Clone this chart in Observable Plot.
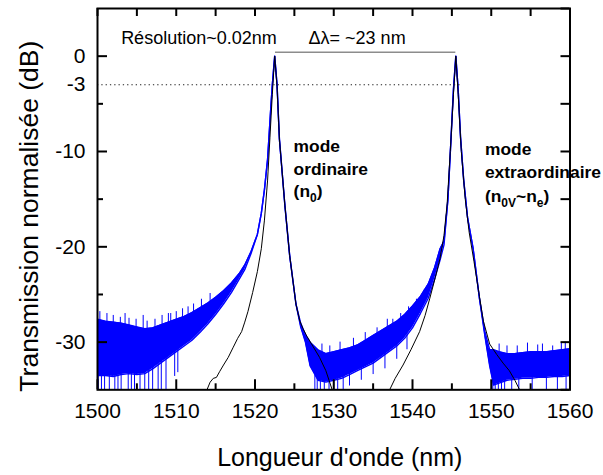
<!DOCTYPE html>
<html>
<head>
<meta charset="utf-8">
<script src="https://cdn.jsdelivr.net/npm/d3@7"></script>
<script src="https://cdn.jsdelivr.net/npm/@observablehq/plot@0.6"></script>
<style>
  html, body { margin: 0; padding: 0; background: #ffffff; }
</style>
</head>
<body>
<div id="chart"></div>
<script>
// ---- Data ----
// Measured spectrum (blue): noisy band described by its upper and lower edges
const blueX = [1500,1501,1502,1503,1504,1505,1506,1507,1508,1509,1510,1511,1512,1513,1514,1515,1516,1517,1518,1518.7,1519.5,1520.3,1520.8,1521.2,1521.6,1522.0,1522.2,1522.5,1522.8,1523.1,1523.8,1524.4,1525.2,1525.8,1526.4,1527.0,1528,1529,1530,1531,1532,1533,1534,1535,1536,1537,1538,1539,1540,1541,1542,1542.8,1543.5,1544.0,1544.5,1544.9,1545.2,1545.5,1545.8,1546.1,1546.5,1547.0,1547.7,1548.5,1549.2,1549.8,1550.3,1551,1552,1553,1554,1555,1556,1557,1558,1559,1560];
const blueTop = [-27.6,-27.8,-27.9,-28.0,-28.2,-28.4,-28.6,-28.5,-28.2,-27.9,-27.6,-27.3,-26.9,-26.4,-25.9,-25.3,-24.6,-23.8,-22.8,-21.9,-20.5,-18.7,-16.5,-14.0,-10.8,-5.5,-3.0,0,-3.0,-8.7,-15.7,-20.9,-26.0,-28.0,-29.2,-30.0,-30.8,-31.2,-31.0,-30.8,-30.6,-30.3,-29.8,-29.3,-28.8,-28.3,-27.8,-27.1,-26.2,-25.2,-23.9,-22.2,-20.2,-19.4,-15.0,-8.5,-3.5,0,-3.5,-8.5,-13.0,-17.0,-20.2,-25.4,-28.9,-30.8,-30.8,-31.0,-31.2,-31.2,-31.1,-31.0,-31.0,-31.0,-30.9,-30.8,-30.7];
const blueBottom = [-33.5,-33.5,-33.6,-33.4,-33.3,-33.4,-33.3,-32.8,-32.2,-31.6,-31.0,-30.4,-29.8,-29.0,-28.1,-27.1,-26.0,-24.8,-23.4,-22.4,-20.7,-18.7,-16.5,-14.0,-10.8,-5.5,-3.0,0,-3.0,-8.7,-15.7,-20.9,-26.0,-28.4,-30.0,-32.5,-34.0,-34.2,-34.0,-33.8,-33.4,-33.0,-32.6,-32.2,-31.6,-31.0,-30.4,-29.6,-28.5,-27.0,-25.4,-23.4,-21.4,-19.8,-15.0,-8.5,-3.5,0,-3.5,-8.5,-13.0,-17.0,-20.2,-25.4,-29.4,-32.5,-34.5,-34.3,-34.0,-33.9,-33.8,-33.8,-33.7,-33.7,-33.6,-33.6,-33.5];

// Noise spikes of the measured spectrum: downward spikes below the band ...
const downX  = [1500.1,1500.5,1500.9,1501.5,1502.2,1502.6,1503.0,1503.9,1504.3,1504.7,1505.4,1506.0,1506.5,1507.0,1507.7,1508.1,1508.7,1509.8,1510.2,
                1527.6,1527.9,1528.3,1528.8,1529.4,1530.0,1530.5,1531.2,1532.0,1533.5,1535.0,1536.5,1538.0,1539.3,
                1550.2,1550.5,1550.9,1551.3,1551.7,1552.6,1553.5,1555.2,1557.0,1558.4,1559.5];
const downLo = [-35,-35,-35,-35,-35,-35,-35,-35,-35,-35,-35,-35,-35,-35,-35,-35,-35,-33.6,-33.2,
                -35,-35,-35,-35,-35,-35,-35,-35,-34.6,-34.0,-33.4,-32.8,-31.8,-30.8,
                -35,-35,-35,-35,-35,-35,-35,-35,-35,-35,-35];
// ... and upward spikes above the band
const upX  = [1500.3,1501.2,1502.0,1502.9,1503.5,1504.0,1504.9,1505.8,1506.3,1507.3,1508.2,1509.0,1509.3,1510.0,1510.8,1511.5,1512.2,1513.2,1514.3,
              1528.5,1529.5,1530.8,1532.5,1534.0,1535.5,1536.8,1537.5,1538.5,1539.5,1540.5,1541.5,
              1551.0,1552.0,1553.3,1554.6,1555.9,1556.5,1557.8,1558.9,1559.4,1560.0];
const upHi = [-26.8,-27.0,-27.2,-27.4,-27.0,-27.5,-27.6,-27.2,-27.8,-27.6,-27.2,-27.0,-27.0,-26.8,-26.5,-26.3,-26.0,-25.5,-24.9,
              -30.2,-30.4,-30.0,-29.6,-29.0,-28.5,-27.6,-27.6,-27.0,-26.3,-25.5,-24.5,
              -30.2,-30.4,-30.4,-30.1,-30.3,-30.2,-30.4,-30.1,-30.0,-29.9];

// Simulated spectrum (black); null separates the two peaks
const blackX = [1513.9,1514.3,1514.7,1515.1,1515.5,1516.0,1516.6,1517.2,1517.8,1518.3,1518.7,1519.1,1519.7,1520.3,1520.8,1521.2,1521.6,1521.9,1522.2,1522.5,1522.8,1523.1,1523.8,1524.4,1525.2,1525.7,1526.1,1526.6,1527.4,1528.2,1529.0,1529.8,1533.0,1537.1,1537.8,1538.8,1539.8,1540.9,1541.6,1542.2,1542.9,1543.5,1544.0,1544.4,1544.8,1545.2,1545.5,1545.8,1546.2,1546.7,1547.2,1547.8,1548.5,1549.0,1549.8,1550.7,1551.5,1552.3,1553.0,1553.6];
const blackY = [-35,-34.2,-33.8,-33.7,-33.1,-32.4,-31.6,-30.6,-29.6,-28.9,-27.9,-26.8,-24.8,-22.6,-20.2,-17.2,-13.0,-8.5,-4.0,0,-3.2,-8.7,-15.7,-20.9,-26.0,-27.8,-28.6,-29.4,-30.5,-31.6,-33.0,-35,null,-35,-33.8,-32.4,-30.8,-28.9,-27.2,-25.4,-23.2,-21.2,-18.8,-15.5,-10.0,-4.0,0,-4.0,-10.0,-15.0,-18.5,-21.5,-25.2,-27.8,-30.2,-31.3,-32.2,-33.0,-34.0,-35];

// Annotation lines
const halfMaxLevel = [-3];
const halfMaxFrom = 1500, halfMaxTo = 1546.4;
const spacingLevel = [0.4];
const spacingFrom = 1522.6, spacingTo = 1545.5;

// Texts
const labelX = [1503.0, 1526.8];
const labelY = [1.9, 1.9];
const labelText = ["Résolution~0.02nm", "Δλ= ~23 nm"];
const modeX = [1524.9, 1524.9, 1524.9, 1549.2, 1549.2, 1549.2];
const modeY = [-9.5, -11.9, -14.2, -9.8, -12.2, -14.7];
const modeText = ["mode", "ordinaire", "(n_{0})", "mode", "extraordinaire", "(n_{0V}~n_{e})"];

// Axes
const xTickLabels = [1500, 1510, 1520, 1530, 1540, 1550, 1560];
const xMinorTicks = [1505, 1515, 1525, 1535, 1545, 1555];
const xAllTicks = [1500,1505,1510,1515,1520,1525,1530,1535,1540,1545,1550,1555,1560];
const yTickLabels = [0, -3, -10, -20, -30];
const yMajorTicks = [0, -10, -20, -30];
const yMinorTicks = [-5, -15, -25];
const yAllTicks = [5, 0, -5, -10, -15, -20, -25, -30, -35];
const xTitle = "Longueur d'onde (nm)";
const yTitle = "Transmission normalisée (dB)";

// ---- Build tables ----
const blue = blueX.map((x, i) => ({x, top: blueTop[i], bottom: blueBottom[i]}));
const downSpikes = downX.map((x, i) => ({x, lo: downLo[i]}));
const upSpikes = upX.map((x, i) => ({x, hi: upHi[i]}));
const black = blackX.map((x, i) => ({x, y: blackY[i]}));
const labels = labelX.map((x, i) => ({x, y: labelY[i], text: labelText[i]}));
const modes = modeX.map((x, i) => ({x, y: modeY[i], text: modeText[i]}));

const W = 603, H = 475;
const mL = 97, mR = 33.5, mT = 8, mB = 85.7;
const pw = W - mL - mR, ph = H - mT - mB;
const BLUE = "#0000ff";

// spike inner ends sit inside the band (band value at nearest sample)
function bandAt(x, key) {
  let best = 0;
  for (let i = 1; i < blue.length; i++) if (Math.abs(blue[i].x - x) < Math.abs(blue[best].x - x)) best = i;
  return blue[best][key];
}

const chart = Plot.plot({
  width: W, height: H,
  marginLeft: mL, marginRight: mR, marginTop: mT, marginBottom: mB,
  x: {domain: [1500, 1560]},
  y: {domain: [-35, 5]},
  style: {fontFamily: "'Liberation Sans', Arial, sans-serif", fontSize: "21px", background: "#ffffff", color: "#000"},
  marks: [
    Plot.areaY(blue, {x: "x", y1: "bottom", y2: "top", fill: BLUE, clip: true}),
    Plot.line(blue, {x: "x", y: "top", stroke: BLUE, strokeWidth: 1.4, clip: true}),
    Plot.line(blue, {x: "x", y: "bottom", stroke: BLUE, strokeWidth: 1.4, clip: true}),
    Plot.ruleX(downSpikes, {x: "x", y1: "lo", y2: d => bandAt(d.x, "bottom") + 0.5, stroke: BLUE, strokeWidth: 1, clip: true}),
    Plot.ruleX(upSpikes, {x: "x", y1: d => bandAt(d.x, "top") - 0.5, y2: "hi", stroke: BLUE, strokeWidth: 1, clip: true}),
    Plot.line(black, {x: "x", y: "y", stroke: "#000", strokeWidth: 1, clip: true}),
    Plot.ruleY(halfMaxLevel, {x1: halfMaxFrom, x2: halfMaxTo, stroke: "#222", strokeWidth: 1.2, strokeDasharray: "1.3,3"}),
    Plot.ruleY(spacingLevel, {x1: spacingFrom, x2: spacingTo, stroke: "#8c8c8c", strokeWidth: 1.5}),
    Plot.frame({stroke: "#000", strokeWidth: 2}),
    // inward ticks
    Plot.tickX(xTickLabels, {x: d => d, insetTop: ph - 10, stroke: "#000", strokeWidth: 2}),
    Plot.tickX(xMinorTicks, {x: d => d, insetTop: ph - 6, stroke: "#000", strokeWidth: 2}),
    Plot.tickX(xAllTicks, {x: d => d, insetBottom: ph - 8, stroke: "#000", strokeWidth: 2}),
    Plot.tickY(yMajorTicks, {y: d => d, insetRight: pw - 10, stroke: "#000", strokeWidth: 2}),
    Plot.tickY(yMinorTicks, {y: d => d, insetRight: pw - 6, stroke: "#000", strokeWidth: 2}),
    Plot.tickY(yAllTicks, {y: d => d, insetLeft: pw - 9, stroke: "#000", strokeWidth: 2}),
    // tick labels
    Plot.axisX({ticks: xTickLabels, tickSize: 0, tickPadding: 13, tickFormat: d => String(d), label: null, fontSize: 21}),
    Plot.axisY({ticks: yTickLabels, tickSize: 0, tickPadding: 12, tickFormat: d => String(d), label: null, fontSize: 21}),
    // axis titles
    Plot.text([xTitle], {text: d => d, frameAnchor: "bottom", textAnchor: "middle", lineAnchor: "middle", dy: 67.7, dx: 6, fontSize: 25}),
    Plot.text([yTitle], {text: d => d, frameAnchor: "left", textAnchor: "middle", lineAnchor: "middle", rotate: -90, dx: -68, dy: 17, fontSize: 26.5}),
    // annotations
    Plot.text(labels, {x: "x", y: "y", text: "text", textAnchor: "start", fontSize: 18}),
    Plot.text(modes, {x: "x", y: "y", text: "text", textAnchor: "start", fontSize: 17.4, fontWeight: "bold"})
  ]
});

// subscripts: convert "_{...}" markup into tspans
d3.select(chart).selectAll("text").each(function () {
  const t = this.textContent;
  if (!t.includes("_{")) return;
  const sel = d3.select(this);
  sel.text(null);
  const parts = t.split(/(_\{[^}]*\})/);
  let shifted = false;
  for (const p of parts) {
    if (!p) continue;
    if (p.startsWith("_{")) {
      sel.append("tspan").attr("font-size", 12).attr("dy", shifted ? 0 : 5).text(p.slice(2, -1));
      shifted = true;
    } else {
      const ts = sel.append("tspan").text(p);
      if (shifted) { ts.attr("dy", -5); shifted = false; }
    }
  }
});

document.getElementById("chart").appendChild(chart);
</script>
</body>
</html>
